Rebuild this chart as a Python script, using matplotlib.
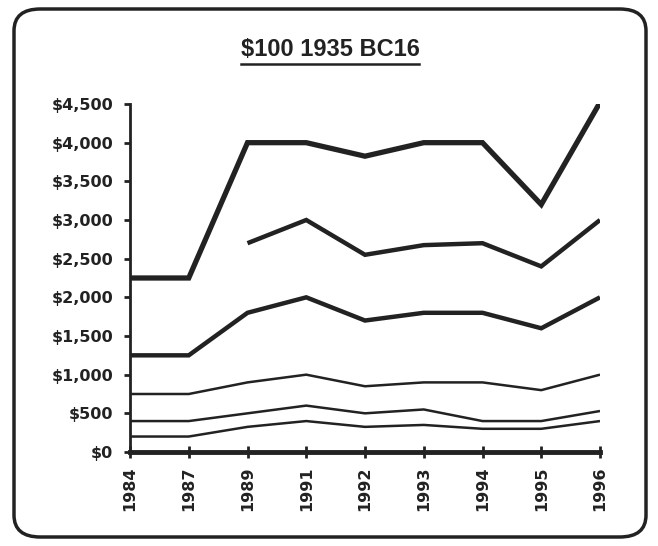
import numpy as np
import matplotlib
matplotlib.use('Agg')
import matplotlib.pyplot as plt
from matplotlib.patches import FancyBboxPatch
from matplotlib.lines import Line2D

years = ['1984', '1987', '1989', '1991', '1992', '1993', '1994', '1995', '1996']
s1 = [2250, 2250, 4000, 4000, 3825, 4000, 4000, 3200, 4520]
s2 = [np.nan, np.nan, 2700, 3000, 2550, 2675, 2700, 2400, 3000]
s3 = [1250, 1250, 1800, 2000, 1700, 1800, 1800, 1600, 2000]
s4 = [750, 750, 900, 1000, 850, 900, 900, 800, 1000]
s5 = [400, 400, 500, 600, 500, 550, 400, 400, 530]
s6 = [200, 200, 325, 400, 325, 350, 300, 300, 400]
yticks = [0, 500, 1000, 1500, 2000, 2500, 3000, 3500, 4000, 4500]
ylabels = ['$0', '$500', '$1,000', '$1,500', '$2,000', '$2,500', '$3,000', '$3,500', '$4,000', '$4,500']

plt.rcParams['font.family'] = ['DejaVu Sans']

fig = plt.figure(figsize=(6.58, 5.46), dpi=100)
ax = fig.add_axes([130/658, 1-452/546, (600-130)/658, (452-104)/546])

x = np.arange(len(years))
series = [(s1, 3.8), (s2, 3.2), (s3, 3.2), (s4, 1.8), (s5, 1.8), (s6, 1.8)]
for vals, lw in series:
    ax.plot(x, vals, color='#222222', lw=lw, solid_joinstyle='miter', solid_capstyle='butt')

ax.set_xlim(0, len(years) - 1)
ax.set_ylim(0, 4500)
ax.set_xticks(x)
ax.set_xticklabels(years, rotation=90, fontsize=11.5, fontweight='bold')
ax.set_yticks(yticks)
ax.set_yticklabels(ylabels, fontsize=11.5, fontweight='bold')
for s in ['top', 'right']:
    ax.spines[s].set_visible(False)
ax.spines['left'].set_linewidth(2)
ax.spines['bottom'].set_linewidth(3.5)
ax.spines['left'].set_color('#222222')
ax.spines['bottom'].set_color('#222222')
ax.tick_params(axis='x', direction='inout', length=9, width=2, pad=6, colors='#222222')
ax.tick_params(axis='y', direction='out', length=4, width=2, pad=8, colors='#222222')

# title with underline
t = fig.text(330/658, 1-50/546, '$100 1935 BC16', ha='center', va='center',
             fontsize=17, fontweight='bold', color='#222222', family='Liberation Sans')
fig.canvas.draw()
bb = t.get_window_extent().transformed(fig.transFigure.inverted())
uy = bb.y0 - 2/546
fig.add_artist(Line2D([bb.x0, bb.x1], [uy, uy], transform=fig.transFigure, color='#222222', lw=1.8))

# rounded frame
frame = FancyBboxPatch((14/658, 1-537/546), (646-14)/658, (537-9)/546,
                       boxstyle='round,pad=0,rounding_size=0.04',
                       transform=fig.transFigure, fill=False, ec='#222222', lw=2.5)
fig.add_artist(frame)

fig.savefig('out.png', dpi=100)
